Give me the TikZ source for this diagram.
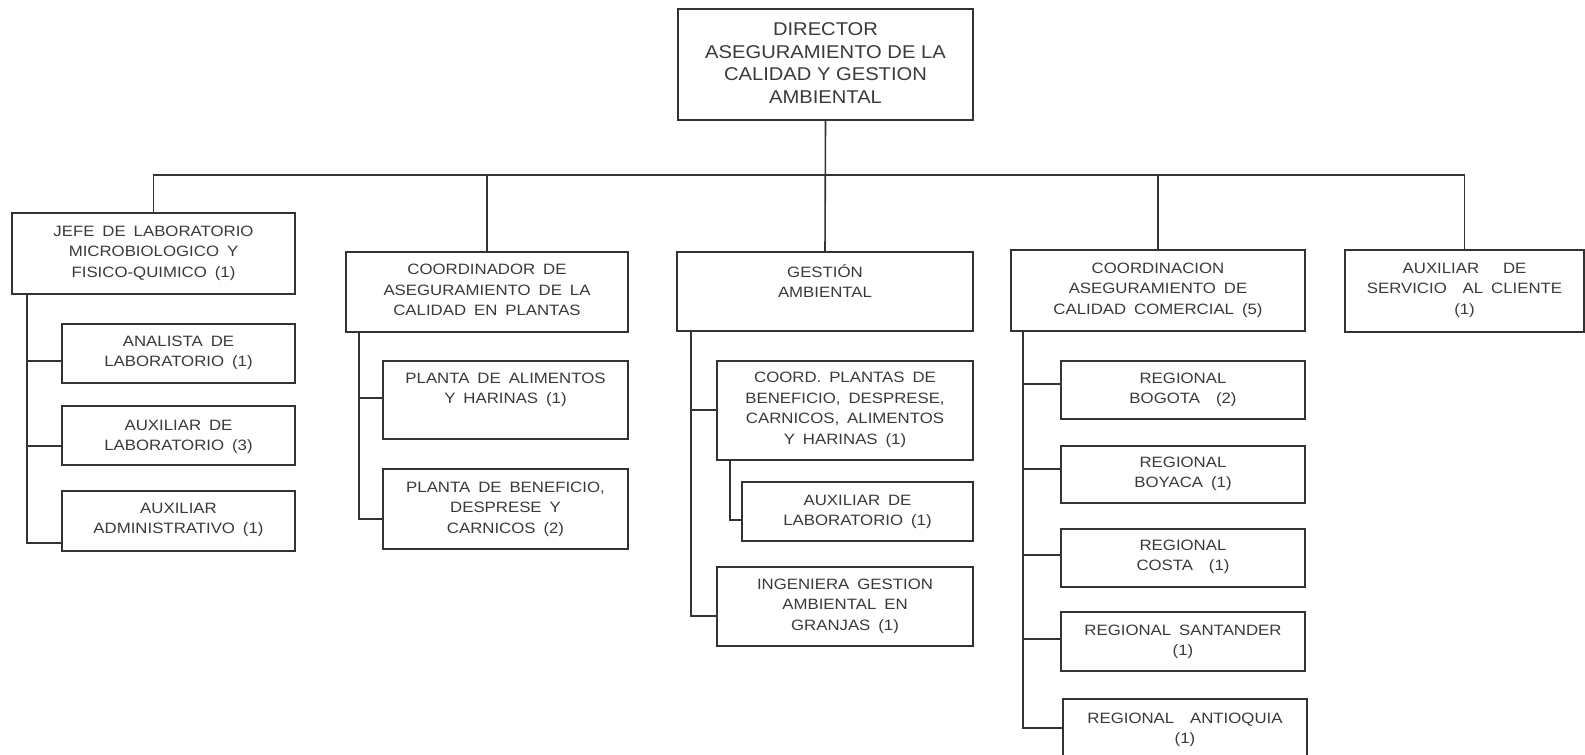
\documentclass[tikz,border=0pt]{standalone}
\usepackage{fontspec}
\newfontfamily\dirfont{Liberation Sans}[FakeStretch=1.09]
\newfontfamily\smfont{Liberation Sans}[FakeStretch=1.12,WordSpace=1.7]
\definecolor{linec}{HTML}{333333}
\definecolor{textc}{HTML}{3A3A3A}
\tikzset{
  box/.style={draw=linec,line width=1.6pt,inner sep=0pt,outer sep=0pt},
  conn/.style={draw=linec,line width=1.6pt},
  lbl/.style={align=center,inner sep=0pt,text=textc,font=\smfont\fontsize{15}{20.5}\selectfont},
  dlbl/.style={align=center,inner sep=0pt,text=textc,font=\dirfont\fontsize{18.5}{22.7}\selectfont}
}
\newcommand\obox[5]{\node[box,minimum width={#4-#2},minimum height={#5-#3}] (#1) at ({(#2+#4)/2},{(#3+#5)/2}) {};}
\begin{document}
\begin{tikzpicture}[x=1pt,y=-1pt]
\useasboundingbox (0,0) rectangle (1585,755);
\fill[white] (0,0) rectangle (1585,755);
\clip (0,0) rectangle (1585,755);
% boxes
\obox{dir}{678}{9}{973}{120}
\obox{jefe}{12}{213}{295}{294}
\obox{cpl}{346}{252}{628}{332}
\obox{gest}{677}{252}{973}{331}
\obox{ccom}{1011}{250}{1305}{331}
\obox{asc}{1345}{250}{1584}{332}
\obox{an}{62}{324}{295}{383}
\obox{al3}{62}{406}{295}{465}
\obox{adm}{62}{491}{295}{551}
\obox{pa}{383}{361}{628}{439}
\obox{pb}{383}{469}{628}{549}
\obox{cp}{717}{361}{973}{460}
\obox{al1}{742}{482}{973}{541}
\obox{ing}{717}{567}{973}{646}
\obox{rb}{1061}{361}{1305}{419}
\obox{rby}{1061}{446}{1305}{503}
\obox{rc}{1061}{529}{1305}{587}
\obox{rs}{1061}{612}{1305}{671}
\obox{ra}{1063}{699}{1307}{775}
% texts
\node[dlbl] (tdir) at (dir.center |- 0,63) {DIRECTOR\\ASEGURAMIENTO DE LA\\CALIDAD Y GESTION\\AMBIENTAL};
\node[lbl] (tjefe) at (jefe.center |- 0,253) {JEFE DE LABORATORIO\\MICROBIOLOGICO Y\\FISICO-QUIMICO (1)};
\node[lbl] (tcpl) at (cpl.center |- 0,290) {COORDINADOR DE\\ASEGURAMIENTO DE LA\\CALIDAD EN PLANTAS};
\node[lbl] (tgest) at (gest.center |- 0,281) {GESTIÓN\\AMBIENTAL};
\node[lbl] (tccom) at (ccom.center |- 0,290) {COORDINACION\\ASEGURAMIENTO DE\\CALIDAD COMERCIAL (5)};
\node[lbl] (tasc) at (asc.center |- 0,290) {AUXILIAR \ \ DE\\SERVICIO \ AL CLIENTE\\(1)};
\node[lbl] (tan) at (an.center |- 0,353) {ANALISTA DE\\LABORATORIO (1)};
\node[lbl] (tal3) at (al3.center |- 0,437) {AUXILIAR DE\\LABORATORIO (3)};
\node[lbl] (tadm) at (adm.center |- 0,520) {AUXILIAR\\ADMINISTRATIVO (1)};
\node[lbl] (tpa) at (pa.center |- 0,390) {PLANTA DE ALIMENTOS\\Y HARINAS (1)};
\node[lbl] (tpb) at (pb.center |- 0,509) {PLANTA DE BENEFICIO,\\DESPRESE Y\\CARNICOS (2)};
\node[lbl] (tcp) at (cp.center |- 0,410) {COORD. PLANTAS DE\\BENEFICIO, DESPRESE,\\CARNICOS, ALIMENTOS\\Y HARINAS (1)};
\node[lbl] (tal1) at (al1.center |- 0,512) {AUXILIAR DE\\LABORATORIO (1)};
\node[lbl] (ting) at (ing.center |- 0,606) {INGENIERA GESTION\\AMBIENTAL EN\\GRANJAS (1)};
\node[lbl] (trb) at (rb.center |- 0,390) {REGIONAL\\BOGOTA \ (2)};
\node[lbl] (trby) at (rby.center |- 0,474) {REGIONAL\\BOYACA (1)};
\node[lbl] (trc) at (rc.center |- 0,557) {REGIONAL\\COSTA \ (1)};
\node[lbl] (trs) at (rs.center |- 0,642) {REGIONAL SANTANDER\\(1)};
\node[lbl] (tra) at (ra.center |- 0,730) {REGIONAL \ ANTIOQUIA\\(1)};
% top level connectors
\coordinate (bus) at (825,175);
\draw[conn] (dir.south) -- (gest.north);
\draw[conn] (jefe.north) |- (bus) -| (asc.north);
\draw[conn] (cpl.north) -- (cpl.north |- bus);
\draw[conn] (ccom.north) -- (ccom.north |- bus);
% JEFE column
\coordinate (jtop) at (27,294);
\coordinate (j1) at (27,361);
\coordinate (j2) at (27,446);
\coordinate (j3) at (27,543);
\draw[conn] (jtop) -- (j3) -- (j3 -| adm.west);
\draw[conn] (j1) -- (j1 -| an.west);
\draw[conn] (j2) -- (j2 -| al3.west);
% COORDINADOR column
\coordinate (ctop) at (359,332);
\coordinate (c1) at (359,398);
\coordinate (c2) at (359,519);
\draw[conn] (ctop) -- (c2) -- (c2 -| pb.west);
\draw[conn] (c1) -- (c1 -| pa.west);
% GESTION column
\coordinate (gtop) at (691,331);
\coordinate (g1) at (691,410);
\coordinate (g2) at (691,616);
\draw[conn] (gtop) -- (g2) -- (g2 -| ing.west);
\draw[conn] (g1) -- (g1 -| cp.west);
\coordinate (stop) at (730,460);
\coordinate (s1) at (730,520);
\draw[conn] (stop) -- (s1) -- (s1 -| al1.west);
% COORDINACION column
\coordinate (rtop) at (1023,331);
\coordinate (r1) at (1023,384);
\coordinate (r2) at (1023,469);
\coordinate (r3) at (1023,555);
\coordinate (r4) at (1023,639);
\coordinate (r5) at (1023,728);
\draw[conn] (rtop) -- (r5) -- (r5 -| ra.west);
\draw[conn] (r1) -- (r1 -| rb.west);
\draw[conn] (r2) -- (r2 -| rby.west);
\draw[conn] (r3) -- (r3 -| rc.west);
\draw[conn] (r4) -- (r4 -| rs.west);
\end{tikzpicture}
\end{document}
